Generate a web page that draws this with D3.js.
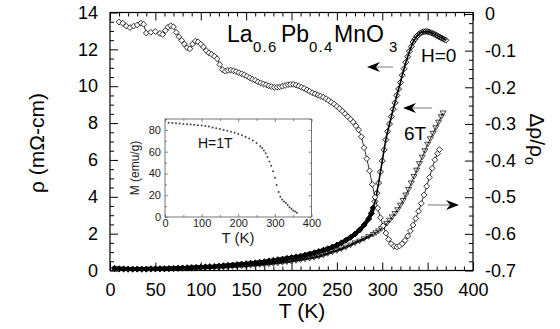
<!DOCTYPE html>
<html><head><meta charset="utf-8">
<script src="https://cdn.jsdelivr.net/npm/d3@7"></script>
<style>body{margin:0;background:#fff}svg{display:block}</style>
</head><body><svg id="c" width="560" height="329"></svg>
<script>
// ---- data ----
const T_H0 = [5,10,15,20,25,30,35,40,45,50,55,60,65,70,75,80,85,90,95,100,105,110,115,120,125,130,135,140,145,150,155,160,165,170,175,180,185,190,195,200,205,210,215,220,225,230,235,240,245,250,255,260,265,270,275,280,285,
  288,290,292,294,296,298,300,302,304,306,308,310,312,314,316,318,320,322,324,326,328,330,332,334,336,338,340,342,344,346,348,350,352,354,356,358,360,362,364,366,368,370];
const rho_H0 = [0.12,0.1,0.09,0.08,0.08,0.08,0.08,0.08,0.09,0.09,0.1,0.1,0.11,0.12,0.13,0.14,0.15,0.16,0.17,0.18,0.2,0.21,0.22,0.24,0.26,0.28,0.3,0.32,0.35,0.37,0.4,0.42,0.45,0.48,0.52,0.55,0.59,0.62,0.66,0.7,0.74,0.78,0.84,0.9,0.96,1.03,1.1,1.18,1.27,1.38,1.5,1.64,1.8,1.98,2.2,2.47,2.8,
  3.1,3.4,3.75,4.2,4.75,5.35,5.95,6.55,7.1,7.55,7.95,8.35,8.75,9.1,9.5,9.85,10.2,10.6,10.95,11.3,11.6,11.9,12.15,12.4,12.55,12.7,12.8,12.88,12.93,12.96,12.97,12.96,12.93,12.9,12.86,12.81,12.76,12.7,12.65,12.6,12.55,12.5];

const T_6T = [5,10,15,20,25,30,35,40,45,50,55,60,65,70,75,80,85,90,95,100,105,110,115,120,125,130,135,140,145,150,155,160,165,170,175,180,185,190,195,200,205,210,215,220,225,230,235,240,245,250,255,260,265,270,275,280,285,
  290,293,296,299,302,305,308,311,314,317,320,323,326,329,332,335,338,341,344,347,350,353,356,359,362,365,367];
const rho_6T = [0.08,0.06,0.05,0.05,0.05,0.05,0.05,0.05,0.06,0.06,0.07,0.07,0.08,0.08,0.09,0.1,0.11,0.11,0.12,0.13,0.14,0.15,0.16,0.17,0.18,0.19,0.21,0.22,0.24,0.25,0.27,0.29,0.31,0.33,0.35,0.38,0.41,0.44,0.47,0.5,0.54,0.58,0.62,0.66,0.71,0.76,0.83,0.92,1.0,1.08,1.17,1.27,1.38,1.5,1.6,1.72,1.84,
  1.96,2.05,2.15,2.27,2.41,2.56,2.73,2.91,3.1,3.3,3.55,3.8,4.1,4.4,4.75,5.1,5.45,5.8,6.15,6.5,6.85,7.15,7.45,7.75,8.05,8.35,8.55];

const T_MR = [10,14,18,22,26,30,34,37,40,45,50,55,58,61,64,67,70,73,76,79,82,85,88,91,94,97,100,103,106,109,112,115,118,121,124,127,130,133,136,139,142,145,148,151,154,157,160,163,166,169,172,175,178,181,184,187,190,193,196,199,202,205,208,211,214,217,220,223,226,229,232,235,238,241,244,247,250,253,256,259,262,265,268,271,274,277,280,283,286,289,292,295,298,301,304,307,310,313,316,319,322,325,328,331,334,337,340,343,346,349,352,355,358,361,363];
const dr_MR = [-0.022,-0.025,-0.033,-0.037,-0.033,-0.030,-0.025,-0.028,-0.052,-0.050,-0.048,-0.053,-0.056,-0.045,-0.036,-0.032,-0.035,-0.050,-0.062,-0.072,-0.082,-0.092,-0.095,-0.082,-0.074,-0.076,-0.082,-0.090,-0.100,-0.106,-0.110,-0.115,-0.122,-0.138,-0.152,-0.156,-0.154,-0.153,-0.155,-0.157,-0.160,-0.163,-0.166,-0.170,-0.174,-0.178,-0.181,-0.185,-0.188,-0.191,-0.193,-0.196,-0.198,-0.200,-0.200,-0.199,-0.197,-0.195,-0.193,-0.192,-0.192,-0.194,-0.197,-0.200,-0.203,-0.207,-0.211,-0.215,-0.218,-0.221,-0.224,-0.227,-0.231,-0.236,-0.241,-0.246,-0.252,-0.258,-0.265,-0.272,-0.280,-0.287,-0.295,-0.305,-0.316,-0.335,-0.365,-0.395,-0.428,-0.465,-0.500,-0.530,-0.556,-0.578,-0.598,-0.615,-0.627,-0.634,-0.636,-0.633,-0.627,-0.618,-0.606,-0.592,-0.576,-0.558,-0.538,-0.517,-0.494,-0.470,-0.446,-0.421,-0.398,-0.381,-0.370];

const T_M = [10,20,30,40,50,60,70,80,90,100,110,120,130,140,150,160,170,180,190,200,210,220,230,240,250,260,265,270,275,280,285,290,295,300,305,310,315,320,325,330,335,340,345,350,355,360];
const M_1T = [86.5,86.3,86,85.8,85.5,85.2,85,84.7,84.3,84,83.5,83,82.3,81.6,80.8,80,79.2,78.3,77.3,76.2,75,73.5,72,70.2,68,65,63.3,61,58.5,55,51,47,42,36,29.5,23,18.5,16,14.3,12.8,11,9,7.5,6,5,4];

const xTicks = [0,50,100,150,200,250,300,350,400];
const rhoTicks = [0,2,4,6,8,10,12,14];
const mrTicks = [0,-0.1,-0.2,-0.3,-0.4,-0.5,-0.6,-0.7];
const insetXTicks = [0,100,200,300,400];
const insetYTicks = [0,20,40,60,80];

// ---- drawing ----
const FONT = "'Liberation Sans', Arial, Helvetica, sans-serif";
const svg = d3.select("#c");
svg.append("rect").attr("width",560).attr("height",329).attr("fill","#fff");

const L=110, R=473, TOP=12.5, B=270.5;
const x = d3.scaleLinear().domain([0,400]).range([L,R]);
const yL = d3.scaleLinear().domain([0,14]).range([B,TOP]);
const yR = d3.scaleLinear().domain([-0.7,0]).range([B,14]);

const r2 = v => Math.round(v*1000)/1000;
const fmtR = v => v===0 ? "0" : d3.format(".1f")(v).replace("\u2212","-");

function axis(gen, tr, vals, size, fmt, pad, fs){
  const g = svg.append("g").attr("transform",tr)
    .call(gen.tickValues(vals).tickSize(size).tickPadding(pad||0).tickFormat(fmt||""));
  g.select(".domain").remove();
  g.attr("font-family",FONT).attr("font-size",fs||18);
  g.selectAll("line").attr("stroke","#000").attr("stroke-width",1);
  g.selectAll("text").attr("fill","#000");
  return g;
}
const minorX = d3.range(0,401,10).filter(v=>v%50!==0);
const minorRho = d3.range(0,14.01,0.5).map(r2).filter(v=>v%2!==0);
const minorMR = d3.range(0,29).map(i=>r2(-i*0.025)).filter(v=>Math.abs(Math.round(v*10)-v*10)>1e-6);

axis(d3.axisBottom(x), `translate(0,${B})`, xTicks, -8, d=>String(d), 13);
axis(d3.axisBottom(x), `translate(0,${B})`, minorX, -4);
axis(d3.axisTop(x), `translate(0,${TOP})`, xTicks, -8);
axis(d3.axisTop(x), `translate(0,${TOP})`, minorX, -4);
axis(d3.axisLeft(yL), `translate(${L},0)`, rhoTicks, -8, d=>String(d), 12);
axis(d3.axisLeft(yL), `translate(${L},0)`, minorRho, -4);
axis(d3.axisRight(yR), `translate(${R},0)`, mrTicks, -8, fmtR, 12);
axis(d3.axisRight(yR), `translate(${R},0)`, minorMR, -4);

svg.append("rect").attr("x",L).attr("y",TOP).attr("width",R-L).attr("height",B-TOP)
  .attr("fill","none").attr("stroke","#000").attr("stroke-width",1.2);

// axis titles
svg.append("text").attr("x",302).attr("y",318).attr("text-anchor","middle")
  .attr("font-family",FONT).attr("font-size",21).text("T (K)");
svg.append("text").attr("transform","translate(37,143) rotate(-90)").attr("text-anchor","middle")
  .attr("dy","0.35em").attr("font-family",FONT).attr("font-size",21).text("ρ (mΩ-cm)");
const rt = svg.append("text").attr("transform","translate(537,139) rotate(90)").attr("text-anchor","middle")
  .attr("dy","0.35em").attr("font-family",FONT).attr("font-size",21);
rt.append("tspan").text("Δρ/ρ");
rt.append("tspan").attr("font-size",14).attr("dy",5).text("o");

// title
const tt = svg.append("g").attr("font-family",FONT);
[["La",227,42,23],["0.6",253,52,15],["Pb",281,42,23],["0.4",309,52,15],["MnO",334,42,23],["3",389,52,15]]
  .forEach(([s,tx,ty,fs])=>tt.append("text").attr("x",tx).attr("y",ty).attr("font-size",fs)
    .attr("letter-spacing", fs<20?1.2:0).text(s));

// series data
const dH0 = d3.zip(T_H0, rho_H0), d6T = d3.zip(T_6T, rho_6T), dMR = d3.zip(T_MR, dr_MR);
const lineL = d3.line().x(d=>x(d[0])).y(d=>yL(d[1]));
const lineR = d3.line().x(d=>x(d[0])).y(d=>yR(d[1]));
const diamond = r => `M0,${-r}L${r},0L0,${r}L${-r},0Z`;
const tri = r => `M${-r},${-r*0.65}L${r},${-r*0.65}L0,${r*0.9}Z`;

// 6T
svg.append("path").datum(d6T.filter(d=>d[0]<=290)).attr("d",lineL)
  .attr("fill","none").attr("stroke","#333").attr("stroke-width",2.6);
svg.append("path").datum(d6T).attr("d",lineL)
  .attr("fill","none").attr("stroke","#000").attr("stroke-width",0.8);
svg.append("g").selectAll("path").data(d6T).join("path")
  .attr("transform",d=>`translate(${x(d[0])},${yL(d[1])})`).attr("d",tri(3))
  .attr("fill","none").attr("stroke","#000").attr("stroke-width",0.7);

// H=0
svg.append("path").datum(dH0.filter(d=>d[0]<=290)).attr("d",lineL)
  .attr("fill","none").attr("stroke","#000").attr("stroke-width",4);
svg.append("path").datum(dH0).attr("d",lineL)
  .attr("fill","none").attr("stroke","#000").attr("stroke-width",1.6);
svg.append("g").selectAll("path").data(dH0).join("path")
  .attr("transform",d=>`translate(${x(d[0])},${yL(d[1])})`).attr("d",diamond(3))
  .attr("fill",d=>d[0]<=290?"#000":"none").attr("stroke","#000").attr("stroke-width",0.9);

// MR
svg.append("path").datum(dMR).attr("d",lineR)
  .attr("fill","none").attr("stroke","#000").attr("stroke-width",0.8);
svg.append("g").selectAll("path").data(dMR).join("path")
  .attr("transform",d=>`translate(${x(d[0])},${yR(d[1])})`).attr("d",diamond(2.9))
  .attr("fill","#fff").attr("stroke","#000").attr("stroke-width",0.8);

// annotations
function arrow(x1,x2,y){
  const dir = Math.sign(x2-x1);
  svg.append("line").attr("x1",x1).attr("x2",x2-dir*6).attr("y1",y).attr("y2",y)
    .attr("stroke","#555").attr("stroke-width",0.8);
  svg.append("path").attr("d",`M${x2},${y}L${x2-dir*13},${y-5}L${x2-dir*9},${y}L${x2-dir*13},${y+5}Z`)
    .attr("fill","#000");
}
arrow(393,367,67);
arrow(432,403,108);
arrow(428,459,205);
svg.append("text").attr("x",421).attr("y",62).attr("font-family",FONT).attr("font-size",19).text("H=0");
svg.append("text").attr("x",404).attr("y",140).attr("font-family",FONT).attr("font-size",19).text("6T");

// inset
const IL=165, IR=311.5, IT=119, IB=217;
const xi = d3.scaleLinear().domain([0,400]).range([IL,IR]);
const yi = d3.scaleLinear().domain([0,90]).range([IB,IT]);
function iaxis(gen, tr, vals, size, fmt, pad){
  const g = svg.append("g").attr("transform",tr)
    .call(gen.tickValues(vals).tickSize(size).tickPadding(pad||0).tickFormat(fmt||""));
  g.select(".domain").remove();
  g.attr("font-family",FONT).attr("font-size",11);
  g.selectAll("line").attr("stroke","#555").attr("stroke-width",0.7);
  g.selectAll("text").attr("fill","#222");
}
const iminX = d3.range(0,401,50).filter(v=>v%100!==0);
const iminY = d3.range(0,91,10).filter(v=>v%20!==0);
iaxis(d3.axisBottom(xi), `translate(0,${IB})`, insetXTicks, -3, d=>String(d), 2);
iaxis(d3.axisBottom(xi), `translate(0,${IB})`, iminX, -2);
iaxis(d3.axisTop(xi), `translate(0,${IT})`, insetXTicks, -3);
iaxis(d3.axisTop(xi), `translate(0,${IT})`, iminX, -2);
iaxis(d3.axisLeft(yi), `translate(${IL},0)`, insetYTicks, -3, d=>String(d), 4);
iaxis(d3.axisLeft(yi), `translate(${IL},0)`, iminY, -2);
iaxis(d3.axisRight(yi), `translate(${IR},0)`, insetYTicks, -3);
iaxis(d3.axisRight(yi), `translate(${IR},0)`, iminY, -2);
svg.append("rect").attr("x",IL).attr("y",IT).attr("width",IR-IL).attr("height",IB-IT)
  .attr("fill","none").attr("stroke","#555").attr("stroke-width",0.8);
svg.append("g").selectAll("circle").data(d3.zip(T_M,M_1T)).join("circle")
  .attr("cx",d=>xi(d[0])).attr("cy",d=>yi(d[1])).attr("r",1).attr("fill","#444");
svg.append("text").attr("x",238).attr("y",243).attr("text-anchor","middle")
  .attr("font-family",FONT).attr("font-size",15).attr("fill","#222").text("T (K)");
svg.append("text").attr("transform","translate(135,168) rotate(-90)").attr("text-anchor","middle")
  .attr("dy","0.35em").attr("font-family",FONT).attr("font-size",12).attr("fill","#222").text("M (emu/g)");
svg.append("text").attr("x",198).attr("y",148).attr("font-family",FONT).attr("font-size",14)
  .attr("fill","#111").text("H=1T");
</script>
</body></html>
